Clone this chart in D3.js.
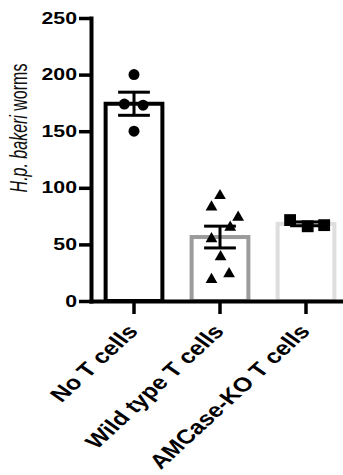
<!DOCTYPE html>
<html>
<head>
<meta charset="utf-8">
<script src="https://cdn.jsdelivr.net/npm/d3@7"></script>
<style>
  body { margin: 0; background: #fff; }
  text { font-family: "Liberation Sans", Arial, sans-serif; }
</style>
</head>
<body>
<svg id="chart" width="343" height="475"></svg>
<script>
const groups = ['No T cells', 'Wild type T cells', 'AMCase-KO T cells']

// worms per mouse
const noTCells = [200, 174, 173, 150]
const wildTypeTCells = [93, 83, 74, 65, 55, 39, 24, 19]
const amcaseKoTCells = [71.5, 66, 67]

// sideways scatter of each dot, as a share of the bar width
const noTJitter = [0, -0.17, 0.16, 0]
const wildTypeJitter = [0, -0.15, 0.32, 0.18, -0.15, 0.01, 0.16, -0.15]
const amcaseKoJitter = [-0.28, 0.03, 0.32]

const yTicks = [0, 50, 100, 150, 200, 250]

const barColors = ['#000', '#9b9b9b', '#dedede']
const symbols = [d3.symbolCircle, d3.symbolTriangle, d3.symbolSquare]
const symbolSizes = [95, 60, 140]

// type in the figure is stretched sideways
const sx = 1.25
const titleSx = 1.45

const svg = d3.select('#chart')

const x = d3.scaleBand()
    .domain(groups)
    .range([91, 349])
    .paddingInner(0.34)
    .paddingOuter(0.17)
const y = d3.scaleLinear().domain([0, 250]).range([301, 18])
const bw = x.bandwidth()

const values = [noTCells, wildTypeTCells, amcaseKoTCells]
const jitters = [noTJitter, wildTypeJitter, amcaseKoJitter]

const data = groups.map((g, i) => {
    const vals = values[i]
    return {
        group: g,
        i: i,
        vals: vals,
        jitter: jitters[i],
        mean: d3.mean(vals),
        sem: d3.deviation(vals) / Math.sqrt(vals.length)
    }
})

// bars
svg.append('g')
    .selectAll('rect')
    .data(data)
    .join('rect')
    .attr('x', d => x(d.group))
    .attr('width', bw)
    .attr('y', d => y(d.mean))
    .attr('height', d => y(0) - y(d.mean))
    .attr('fill', '#fff')
    .attr('stroke', d => barColors[d.i])
    .attr('stroke-width', 4)

// mean +/- SEM
const err = svg.append('g')
    .attr('stroke', '#000')
    .attr('stroke-width', 3)
err.selectAll('.stem')
    .data(data)
    .join('line')
    .attr('class', 'stem')
    .attr('x1', d => x(d.group) + bw / 2)
    .attr('x2', d => x(d.group) + bw / 2)
    .attr('y1', d => y(d.mean - d.sem))
    .attr('y2', d => y(d.mean + d.sem))
err.selectAll('.cap')
    .data(data.flatMap(d => [
        { d: d, v: d.mean - d.sem },
        { d: d, v: d.mean + d.sem }
    ]))
    .join('line')
    .attr('class', 'cap')
    .attr('x1', c => x(c.d.group) + bw * 0.22)
    .attr('x2', c => x(c.d.group) + bw * 0.78)
    .attr('y1', c => y(c.v))
    .attr('y2', c => y(c.v))

// individual mice
svg.append('g')
    .selectAll('path')
    .data(data.flatMap(d => d.vals.map((v, k) => ({ d: d, v: v, j: d.jitter[k] }))))
    .join('path')
    .attr('d', p => d3.symbol().type(symbols[p.d.i]).size(symbolSizes[p.d.i])())
    .attr('transform', p => `translate(${x(p.d.group) + bw / 2 + p.j * bw},${y(p.v)})`)
    .attr('fill', '#000')

// y axis
const yAxis = svg.append('g')
    .attr('transform', 'translate(91,0)')
    .call(d3.axisLeft(y).tickValues(yTicks).tickSize(12).tickSizeOuter(0))
yAxis.select('.domain')
    .attr('stroke', '#000')
    .attr('stroke-width', 4)
    .attr('stroke-linecap', 'square')
yAxis.selectAll('.tick line')
    .attr('stroke', '#000')
    .attr('stroke-width', 3.5)
yAxis.selectAll('.tick text')
    .attr('x', 0)
    .attr('dy', '0.3em')
    .attr('transform', `translate(-14,0) scale(${sx},1)`)
    .attr('font-size', 17)
    .attr('font-weight', 'bold')
    .attr('fill', '#000')

// x axis
const xAxis = svg.append('g')
    .attr('transform', 'translate(0,301)')
    .call(d3.axisBottom(x).tickSize(13).tickSizeOuter(0))
xAxis.select('.domain')
    .attr('stroke', '#000')
    .attr('stroke-width', 4)
    .attr('stroke-linecap', 'square')
xAxis.selectAll('.tick line')
    .attr('stroke', '#000')
    .attr('stroke-width', 3.5)
xAxis.selectAll('.tick text')
    .attr('x', 0)
    .attr('y', 0)
    .attr('dy', 0)
    .attr('text-anchor', 'end')
    .attr('transform', `translate(5,31) scale(${sx},1) rotate(-49)`)
    .attr('font-size', 20)
    .attr('font-weight', 'bold')
    .attr('fill', '#000')

// y title
const title = svg.append('text')
    .attr('transform', `translate(27,128) scale(${titleSx},1) rotate(-90)`)
    .attr('text-anchor', 'middle')
    .attr('font-size', 16)
    .attr('fill', '#111')
title.append('tspan').attr('font-style', 'italic').text('H.p. bakeri')
title.append('tspan').text(' worms')
</script>
</body>
</html>
